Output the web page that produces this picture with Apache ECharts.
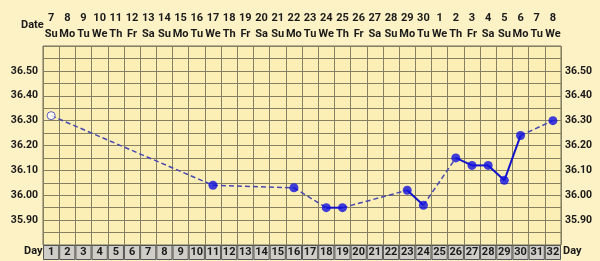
<!DOCTYPE html>
<html><head><meta charset="utf-8">
<script src="https://cdn.jsdelivr.net/npm/echarts/dist/echarts.min.js"></script>
<style>html,body{margin:0;padding:0;background:#fdf1c6;}#c{width:600px;height:261px;}</style>
</head><body><div id="c"></div>
<script>
// ---- data ----
const cycleDays = [1,2,3,4,5,6,7,8,9,10,11,12,13,14,15,16,17,18,19,20,21,22,23,24,25,26,27,28,29,30,31,32];
const dates = [7,8,9,10,11,12,13,14,15,16,17,18,19,20,21,22,23,24,25,26,27,28,29,30,1,2,3,4,5,6,7,8];
const weekdays = ['Su','Mo','Tu','We','Th','Fr','Sa','Su','Mo','Tu','We','Th','Fr','Sa','Su','Mo','Tu','We','Th','Fr','Sa','Su','Mo','Tu','We','Th','Fr','Sa','Su','Mo','Tu','We'];
const tempDays = [1,11,16,18,19,23,24,26,27,28,29,30,32];
const temps = [36.32,36.04,36.03,35.95,35.95,36.02,35.96,36.15,36.12,36.12,36.06,36.24,36.30];
const openDays = [1];
const yLabelValues = [35.90,36.00,36.10,36.20,36.30,36.40,36.50];

// ---- chart ----
const FONT = 'Roboto';
const textC = '#1a1a1a';
const gridC = '#857f63';
const GL = 43, GW = 518;

const cats = cycleDays.map(String);
const topCats = dates.map((d,i)=> d + '\n' + weekdays[i]);

const isLabel = v => yLabelValues.some(t => Math.abs(t - v) < 1e-6);
const yFmt = v => isLabel(v) ? v.toFixed(2) : '';

const series = [];
for (let i = 1; i < tempDays.length; i++) {
  const solid = tempDays[i] - tempDays[i-1] === 1;
  series.push({
    type: 'line', xAxisIndex: 0, yAxisIndex: 0, symbol: 'none', silent: true, z: 3,
    data: [[String(tempDays[i-1]), temps[i-1]], [String(tempDays[i]), temps[i]]],
    lineStyle: solid ? {color: '#1414c8', width: 2, type: 'solid'}
                     : {color: '#4848b0', width: 1.5, type: [5, 3]}
  });
}
series.push({
  type: 'scatter', xAxisIndex: 0, yAxisIndex: 0, z: 5,
  data: tempDays.map((d,i)=>{
    const open = openDays.includes(d);
    return {
      value: [String(d), temps[i]],
      symbolSize: open ? 8 : 9,
      itemStyle: open ? {color: '#ffffff', borderColor: '#3a3ab8', borderWidth: 1}
                      : {color: '#1010e0', borderWidth: 0}
    };
  })
});
series.push({
  type: 'bar', xAxisIndex: 2, yAxisIndex: 2,
  data: cycleDays.map(()=>1), barCategoryGap: '0%', barWidth: '100%',
  itemStyle: {color: '#cfcdc8', borderColor: '#555', borderWidth: 1},
  label: {show: true, position: 'inside', formatter: p => p.name,
          fontFamily: FONT, fontWeight: 'bold', fontSize: 11, color: textC}
});

const option = {
  backgroundColor: '#fdf1c6',
  animation: false,
  grid: [
    {left: GL, width: GW, top: 46, height: 199, show: true, backgroundColor: '#fcefb6', borderColor: '#6e6a58', borderWidth: 1},
    {left: GL, width: GW, top: 245, height: 15}
  ],
  xAxis: [
    {type: 'category', gridIndex: 0, data: cats, boundaryGap: true, position: 'bottom',
     axisLine: {show: false}, axisTick: {show: false}, axisLabel: {show: false},
     splitLine: {show: true, interval: 0, lineStyle: {color: gridC, width: 1}}},
    {type: 'category', gridIndex: 0, data: topCats, boundaryGap: true, position: 'top',
     axisLine: {show: false}, axisTick: {show: false},
     axisLabel: {show: true, interval: 0, margin: 4, fontFamily: FONT, fontWeight: 'bold', fontSize: 11, color: textC, lineHeight: 16},
     splitLine: {show: false}},
    {type: 'category', gridIndex: 1, data: cats, boundaryGap: true, show: false}
  ],
  yAxis: [
    {type: 'value', gridIndex: 0, min: 35.8, max: 36.6, interval: 0.05, position: 'left',
     axisLine: {show: false}, axisTick: {show: false},
     axisLabel: {formatter: yFmt, margin: 5, fontFamily: FONT, fontWeight: 'bold', fontSize: 10.5, color: textC},
     splitLine: {show: true, lineStyle: {color: gridC, width: 1}}},
    {type: 'value', gridIndex: 0, min: 35.8, max: 36.6, interval: 0.05, position: 'right',
     axisLine: {show: false}, axisTick: {show: false},
     axisLabel: {formatter: yFmt, margin: 4, fontFamily: FONT, fontWeight: 'bold', fontSize: 10.5, color: textC},
     splitLine: {show: false}},
    {type: 'value', gridIndex: 1, min: 0, max: 1, show: false}
  ],
  graphic: [
    {type: 'text', left: 21, top: 20, style: {text: 'Date', font: 'bold 11px Roboto', fill: textC}},
    {type: 'text', left: 24, top: 246, style: {text: 'Day', font: 'bold 11px Roboto', fill: textC}},
    {type: 'text', left: 563, top: 246, style: {text: 'Day', font: 'bold 11px Roboto', fill: textC}}
  ],
  series: series
};
const chart = echarts.init(document.getElementById('c'), null, {renderer: 'canvas'});
chart.setOption(option);
</script></body></html>
